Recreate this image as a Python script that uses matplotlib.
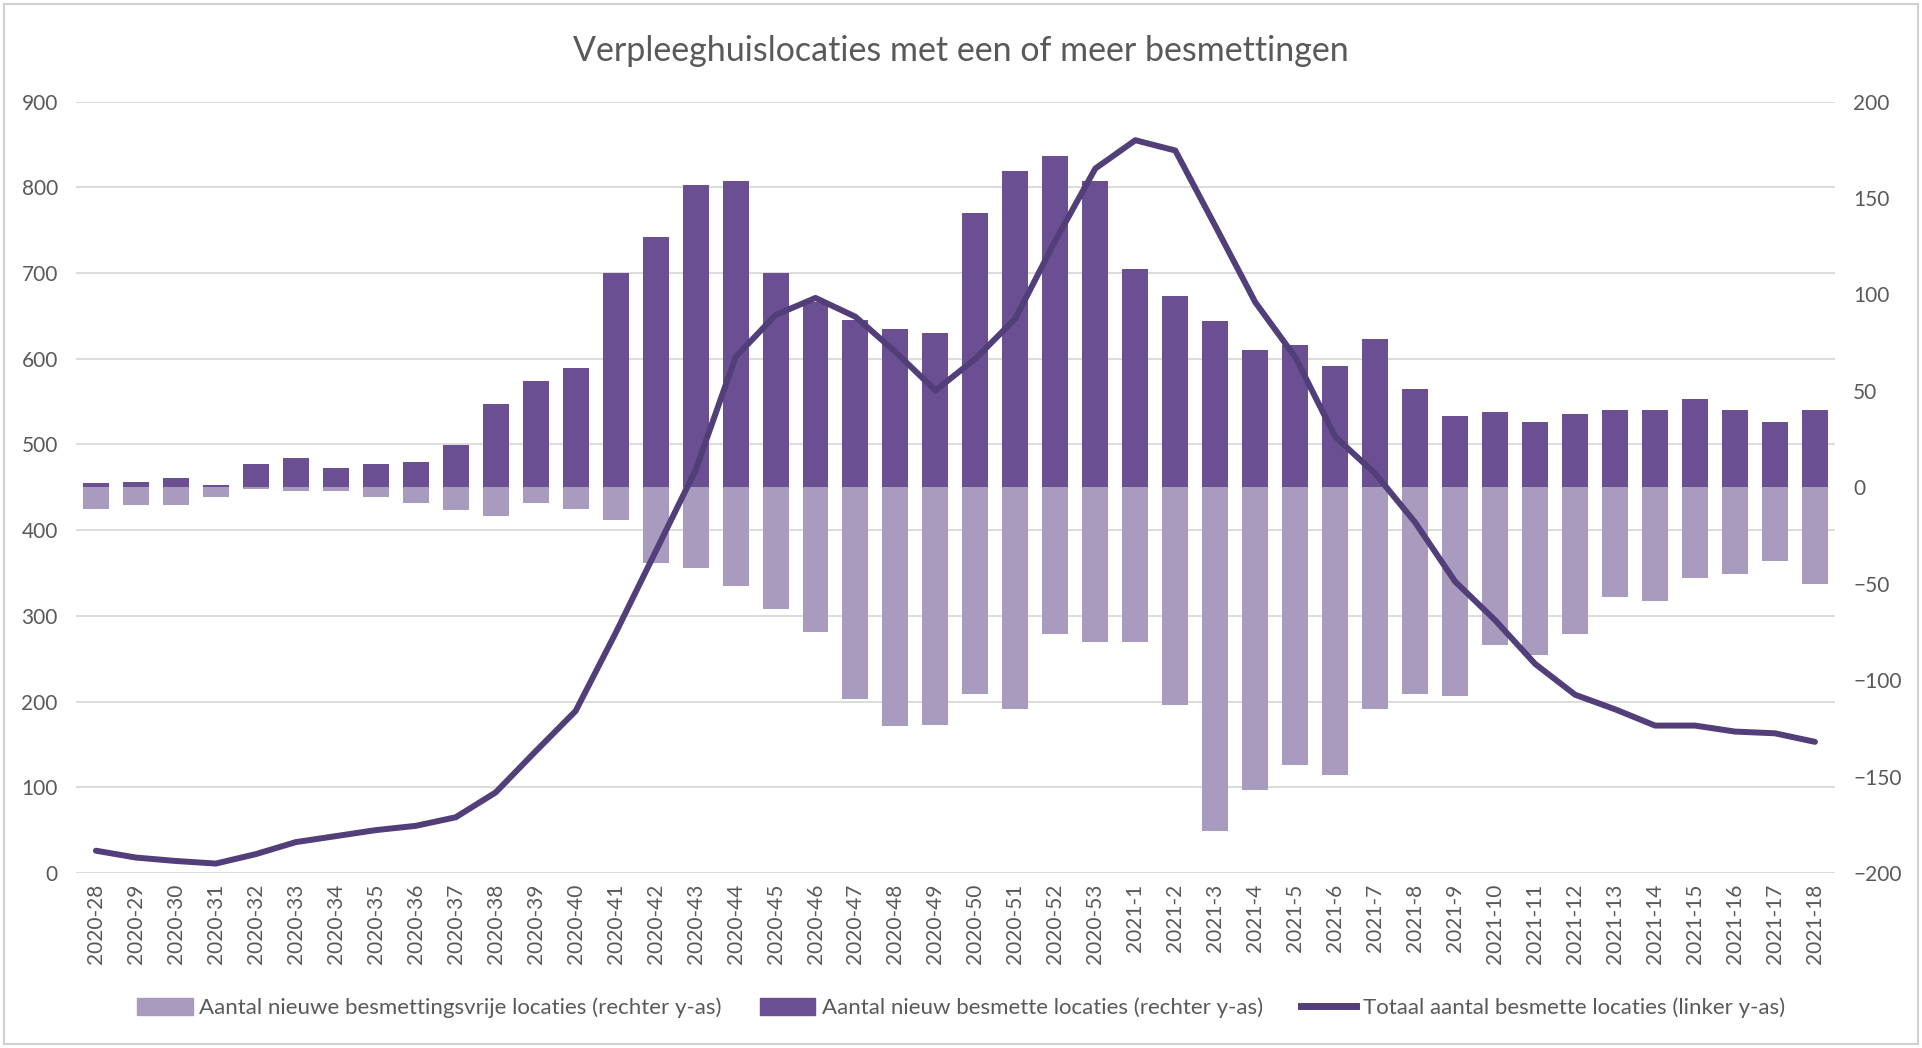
import numpy as np
import matplotlib.pyplot as plt
from matplotlib.patches import Rectangle, Patch
from matplotlib.lines import Line2D

plt.rcParams['font.family'] = ['Lato', 'DejaVu Sans']

# weken
weeks = [f"2020-{w}" for w in range(28, 54)] + [f"2021-{w}" for w in range(1, 19)]

# nieuw besmette locaties (rechter y-as)
nieuw_besmet = [2, 3, 5, 1, 12, 15, 10, 12, 13, 22, 43, 55, 62, 111, 130, 157,
                159, 111, 96, 87, 82, 80, 142, 164, 172, 159,
                113, 99, 86, 71, 74, 63, 77, 51, 37, 39, 34, 38, 40, 40, 46, 40, 34, 40]

# nieuwe besmettingsvrije locaties (rechter y-as)
nieuw_vrij = [-11, -9, -9, -5, -1, -2, -2, -5, -8, -12, -15, -8, -11, -17, -39, -42,
              -51, -63, -75, -110, -124, -123, -107, -115, -76, -80,
              -80, -113, -178, -157, -144, -149, -115, -107, -108, -82, -87, -76, -57, -59, -47, -45, -38, -50]

# totaal besmette locaties (linker y-as)
totaal = [26, 18, 14, 11, 22, 36, 43, 50, 55, 65, 94, 142, 189, 280, 375, 470,
          602, 651, 671, 649, 608, 563, 600, 647, 738, 822,
          855, 843, 755, 666, 602, 509, 466, 409, 340, 295, 244, 208, 191, 172, 172, 165, 163, 153]

col_dark = '#6A5092'
col_light = '#A99BBE'
col_line = '#523E78'
col_text = '#595959'
col_grid = '#D9D9D9'

fig = plt.figure(figsize=(19.22, 10.48), dpi=100)
ax_r = fig.add_axes([0.0395, 0.167, 0.9152, 0.736])
ax_l = ax_r.twinx()
ax_l.yaxis.tick_left()
ax_r.yaxis.tick_right()
ax_l.set_zorder(ax_r.get_zorder() + 1)
ax_l.patch.set_visible(False)

x = np.arange(len(weeks))

# rasterlijnen horen bij de linker as
for v in range(0, 1000, 100):
    ax_r.axhline((v - 450) / 2.25, color=col_grid, lw=1.3, zorder=0)

ax_r.bar(x, nieuw_vrij, width=0.65, color=col_light, zorder=2)
ax_r.bar(x, nieuw_besmet, width=0.65, color=col_dark, zorder=2)
ax_l.plot(x, totaal, color=col_line, lw=4.3, solid_capstyle='round', solid_joinstyle='round', zorder=3)

ax_r.set_ylim(-200, 200)
ax_l.set_ylim(0, 900)
ax_r.set_xlim(-0.5, len(weeks) - 0.5)
ax_r.set_yticks(range(-200, 201, 50))
ax_l.set_yticks(range(0, 901, 100))
ax_r.set_xticks(x)
ax_r.set_xticklabels(weeks, rotation=90)

for a in (ax_r, ax_l):
    for s in a.spines.values():
        s.set_visible(False)
    a.tick_params(length=0, labelsize=15, colors=col_text)
ax_r.tick_params(axis='y', pad=13)
ax_l.tick_params(axis='y', pad=13)
ax_r.tick_params(axis='x', pad=8)

fig.text(0.5, 0.951, 'Verpleeghuislocaties met een of meer besmettingen',
         ha='center', va='center', fontsize=24.5, color=col_text)

handles = [Patch(color=col_light), Patch(color=col_dark),
           Line2D([], [], color=col_line, lw=5)]
labels = ['Aantal nieuwe besmettingsvrije locaties (rechter y-as)',
          'Aantal nieuw besmette locaties (rechter y-as)',
          'Totaal aantal besmette locaties (linker y-as)']
leg = fig.legend(handles, labels, loc='center', bbox_to_anchor=(0.5, 0.038), ncol=3,
                 frameon=False, fontsize=16, handlelength=2.5, handletextpad=0.3,
                 columnspacing=1.7, handleheight=0.8)
for t in leg.get_texts():
    t.set_color(col_text)

fig.patches.append(Rectangle((0.002, 0.004), 0.996, 0.992, transform=fig.transFigure,
                             fill=False, edgecolor='#D0D0D0', lw=1.5))

fig.savefig('out.png', dpi=100, facecolor='white')
